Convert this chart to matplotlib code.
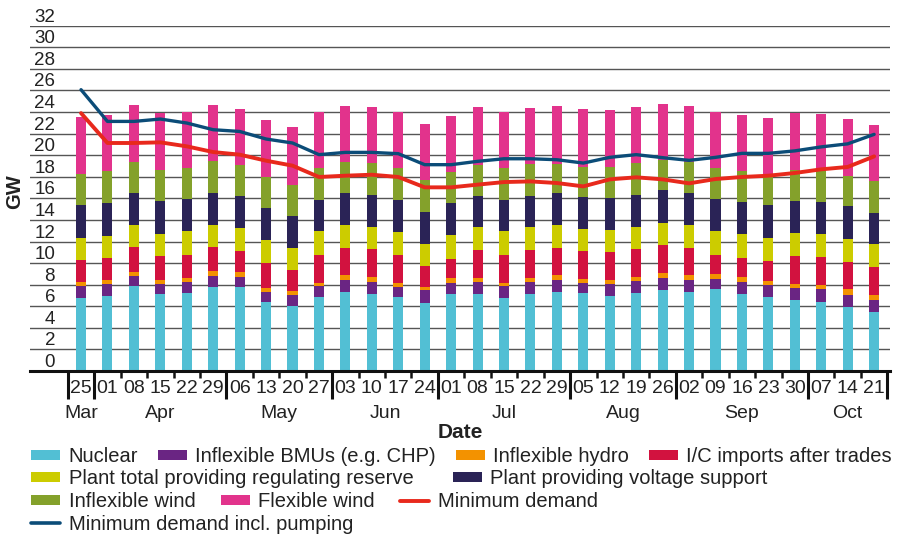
import numpy as np
import matplotlib.pyplot as plt
from matplotlib.patches import Patch
from matplotlib.lines import Line2D

plt.rcParams['font.family'] = ['Liberation Sans', 'DejaVu Sans']

# week commencing
days = ['25', '01', '08', '15', '22', '29', '06', '13', '20', '27', '03', '10', '17', '24',
        '01', '08', '15', '22', '29', '05', '12', '19', '26', '02', '09', '16', '23', '30',
        '07', '14', '21']
months = (['Mar'] + ['Apr'] * 5 + ['May'] * 4 + ['Jun'] * 4 + ['Jul'] * 5
          + ['Aug'] * 4 + ['Sep'] * 5 + ['Oct'] * 3)

# GW, stacked from the bottom
nuclear = [6.73, 6.91, 7.87, 7.13, 7.22, 7.81, 7.81, 6.36, 6.02, 6.82, 7.31, 7.13, 6.82, 6.33,
           7.13, 7.13, 6.73, 7.13, 7.31, 7.22, 6.91, 7.22, 7.50, 7.31, 7.59, 7.13, 6.82, 6.54,
           6.42, 5.93, 5.43]
inflex_bmu = [1.14, 1.15, 0.93, 0.93, 1.02, 1.02, 0.92, 0.99, 1.05, 1.05, 1.12, 1.11, 0.96, 1.14,
              1.05, 1.14, 1.14, 1.14, 1.12, 0.96, 1.15, 1.14, 1.14, 1.15, 0.93, 1.14, 1.17, 1.18,
              1.17, 1.14, 1.14]
inflex_hydro = [0.40, 0.40, 0.34, 0.40, 0.34, 0.43, 0.44, 0.34, 0.34, 0.31, 0.46, 0.43, 0.40, 0.31,
                0.43, 0.31, 0.31, 0.31, 0.46, 0.31, 0.34, 0.34, 0.43, 0.43, 0.43, 0.40, 0.37, 0.37,
                0.40, 0.49, 0.47]
ic_imports = [2.03, 2.03, 2.34, 2.22, 2.19, 2.22, 1.91, 2.34, 1.91, 2.59, 2.50, 2.60, 2.59, 1.97,
              1.79, 2.59, 2.59, 2.59, 2.50, 2.59, 2.59, 2.57, 2.60, 2.50, 1.82, 1.82, 1.86, 2.59,
              2.60, 2.53, 2.59]
reg_reserve = [2.05, 2.04, 2.04, 2.04, 2.16, 2.04, 2.16, 2.13, 2.07, 2.16, 2.13, 2.06, 2.07, 2.01,
               2.16, 2.16, 2.16, 2.16, 2.13, 2.07, 2.07, 2.06, 2.06, 2.13, 2.16, 2.16, 2.13, 2.07,
               2.06, 2.16, 2.13]
voltage = [3.02, 3.03, 2.99, 3.05, 3.03, 2.99, 2.99, 2.99, 2.96, 2.90, 2.99, 3.00, 2.99, 2.99,
           3.00, 2.90, 2.90, 2.90, 2.99, 2.99, 2.99, 3.00, 3.00, 2.99, 3.03, 3.00, 3.02, 3.02,
           3.00, 3.00, 2.90]
inflex_wind = [2.93, 2.93, 2.84, 2.90, 2.81, 2.93, 2.84, 2.87, 2.93, 2.94, 2.84, 2.93, 2.94, 2.94,
               2.84, 2.87, 2.94, 2.94, 2.66, 2.81, 2.90, 2.93, 2.81, 2.84, 2.81, 2.84, 2.84, 2.90,
               2.84, 2.81, 2.96]
flex_wind = [5.20, 5.21, 5.34, 5.25, 5.27, 5.25, 5.25, 5.22, 5.31, 5.24, 5.25, 5.24, 5.24, 5.24,
             5.24, 5.34, 5.24, 5.24, 5.43, 5.37, 5.25, 5.24, 5.24, 5.25, 5.24, 5.21, 5.22, 5.25,
             5.31, 5.27, 5.22]

min_demand = [23.9, 21.13, 21.13, 21.19, 20.82, 20.29, 20.05, 19.49, 19.03, 17.98, 18.1, 18.19,
              17.98, 17.02, 17.02, 17.27, 17.51, 17.57, 17.42, 17.11, 17.76, 17.95, 17.76, 17.39,
              17.79, 17.98, 18.1, 18.35, 18.69, 18.91, 19.89]
min_demand_pumping = [26.07, 23.13, 23.13, 23.35, 22.98, 22.36, 22.2, 21.5, 21.13, 20.05, 20.26,
                      20.26, 20.14, 19.12, 19.12, 19.43, 19.67, 19.67, 19.58, 19.27, 19.8, 20.05,
                      19.77, 19.52, 19.8, 20.17, 20.17, 20.4, 20.77, 21.05, 21.93]

series = [
    ('Nuclear', nuclear, '#52bfd4'),
    ('Inflexible BMUs (e.g. CHP)', inflex_bmu, '#6a2583'),
    ('Inflexible hydro', inflex_hydro, '#f39200'),
    ('I/C imports after trades', ic_imports, '#d2123f'),
    ('Plant total providing regulating reserve', reg_reserve, '#cccc00'),
    ('Plant providing voltage support', voltage, '#2a2356'),
    ('Inflexible wind', inflex_wind, '#84a12b'),
    ('Flexible wind', flex_wind, '#e2338c'),
]
red = '#e8291c'
blue = '#0b4c78'
txt = '#222222'

W, H = 902, 536
fig = plt.figure(figsize=(W / 100, H / 100), dpi=100)
ax_l, ax_r, ax_t, ax_b = 30, 890, 25.7, 371
ax = fig.add_axes([ax_l / W, 1 - ax_b / H, (ax_r - ax_l) / W, (ax_b - ax_t) / H])
ax_h = ax_b - ax_t

x = np.arange(len(days))
bottom = np.zeros(len(days))
for name, vals, col in series:
    ax.bar(x, vals, 0.38, bottom=bottom, color=col, zorder=2, linewidth=0)
    bottom += np.array(vals)

ax.plot(x, min_demand_pumping, color=blue, lw=2.4, zorder=3,
        solid_joinstyle='round', solid_capstyle='round')
ax.plot(x, min_demand, color=red, lw=2.8, zorder=4,
        solid_joinstyle='round', solid_capstyle='round')

ax.set_xlim(-1.93, 30.6)
ax.set_ylim(0, 32)

# y axis: gridlines with labels sitting above them
ax.set_yticks(range(0, 33, 2))
ax.grid(axis='y', color='#555555', lw=1.0, zorder=0)
ax.tick_params(axis='y', length=0, pad=-18, labelsize=13.5, labelcolor=txt)
for lbl in ax.get_yticklabels():
    lbl.set_verticalalignment('bottom')

for s in ['top', 'right', 'left']:
    ax.spines[s].set_visible(False)
ax.spines['bottom'].set_linewidth(2.2)
ax.spines['bottom'].set_color('#111111')
ax.spines['bottom'].set_zorder(5)

# x axis: day labels at bars, short ticks between weeks, long ticks between months
ax.set_xticks(x)
ax.set_xticklabels(days)
ax.tick_params(axis='x', which='major', length=0, pad=6.5, labelsize=14, labelcolor=txt)
ax.set_xticks(x[:-1] + 0.5, minor=True)
ax.tick_params(axis='x', which='minor', length=5, width=1.8, color='#111111')

bounds = [-0.5]
for i in range(1, len(months)):
    if months[i] != months[i - 1]:
        bounds.append(i - 0.5)
bounds.append(len(months) - 0.5)
ax.vlines(bounds, 0, -28 / ax_h, transform=ax.get_xaxis_transform(),
          color='#111111', lw=2.2, clip_on=False, zorder=5)

seen = []
for m in months:
    if m not in seen:
        seen.append(m)
for m in seen:
    idx = [i for i, mm in enumerate(months) if mm == m]
    ax.text(np.mean(idx), -42 / ax_h, m, transform=ax.get_xaxis_transform(),
            ha='center', va='center', fontsize=14, color=txt)

ax.set_xlabel('Date', fontsize=15, fontweight='bold', color=txt)
ax.xaxis.set_label_coords(0.5, -52 / ax_h)
ax.set_ylabel('GW', fontsize=14.5, fontweight='bold', color=txt)
ax.yaxis.set_label_coords(-6 / (ax_r - ax_l), 0.52)

# legend in four rows
handles = {name: Patch(facecolor=col, edgecolor='none') for name, vals, col in series}
handles['Minimum demand'] = Line2D([], [], color=red, lw=2.8, solid_capstyle='round')
handles['Minimum demand incl. pumping'] = Line2D([], [], color=blue, lw=2.6,
                                                 solid_capstyle='round')
rows = [
    ['Nuclear', 'Inflexible BMUs (e.g. CHP)', 'Inflexible hydro', 'I/C imports after trades'],
    ['Plant total providing regulating reserve', 'Plant providing voltage support'],
    ['Inflexible wind', 'Flexible wind', 'Minimum demand'],
    ['Minimum demand incl. pumping'],
]
row_spacing = [0.97, 1.95, 1.25, 0.8]
row_y = [456.5, 479, 501.5, 524]
for names, yc, cs in zip(rows, row_y, row_spacing):
    leg = fig.legend([handles[n] for n in names], names, ncol=len(names),
                     loc='center left', bbox_to_anchor=(31 / W, 1 - yc / H),
                     frameon=False, fontsize=14.5, borderpad=0, borderaxespad=0,
                     handlelength=1.45, handleheight=0.4, handletextpad=0.42,
                     columnspacing=cs)
    for t in leg.get_texts():
        t.set_color(txt)

fig.savefig('out.png', dpi=100)
